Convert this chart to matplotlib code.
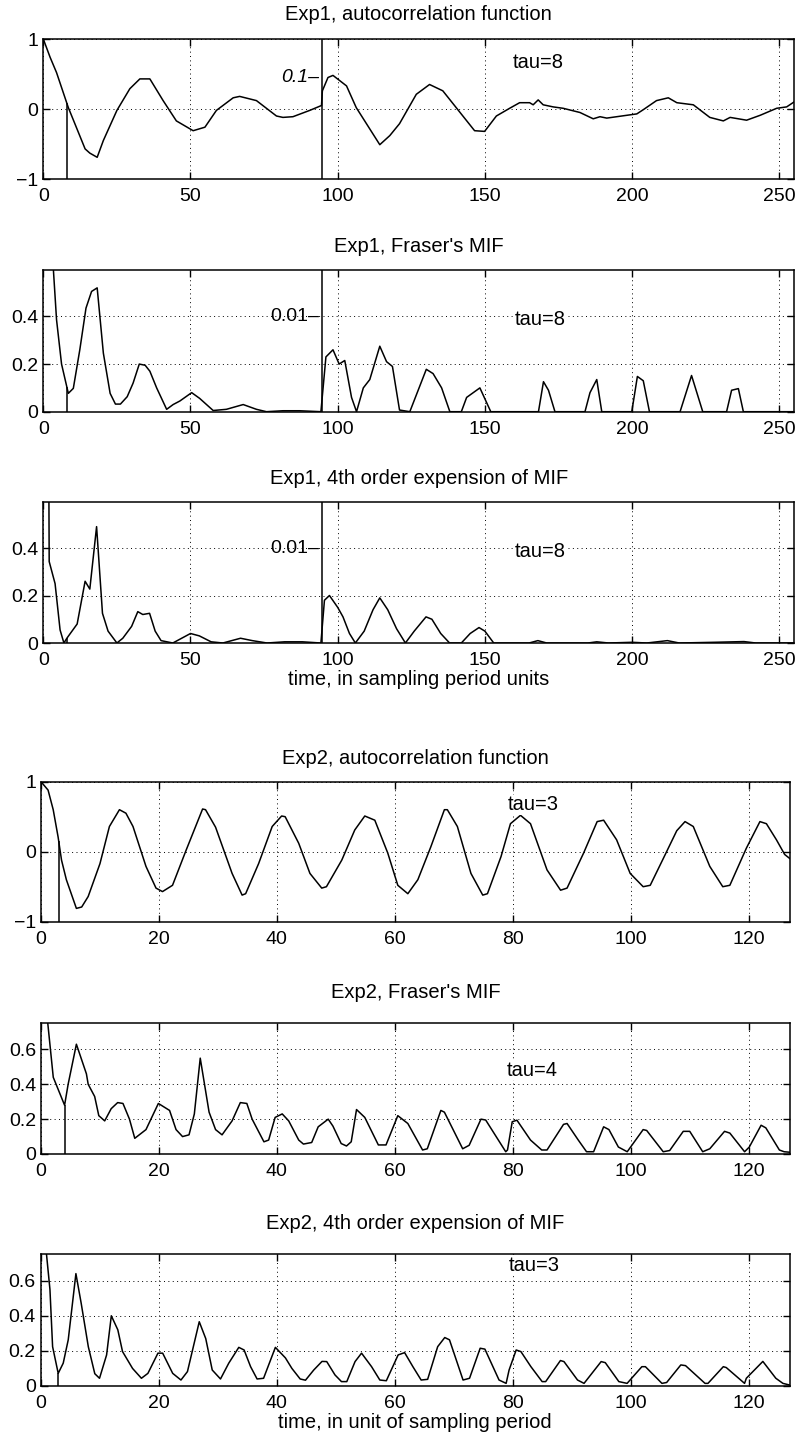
import matplotlib
matplotlib.use("Agg")
import matplotlib.pyplot as plt
import numpy as np

plt.rcParams.update({
    "font.family": ["Liberation Sans", "DejaVu Sans"],
    "font.size": 12,
    "axes.linewidth": 1.1,
    "lines.linewidth": 1.1,
    "xtick.direction": "in",
    "ytick.direction": "in",
    "xtick.top": True,
    "ytick.right": True,
})

# ---------------- data ----------------
# Exp1: lags right of the split line are drawn magnified (label gives the scale)
exp1_split = 94.5
exp1_tau = 8

exp1_acf_x = [0, 2.3, 4.5, 8.5, 14.2, 15.8, 18.3, 20.4, 25, 29.4, 32.8, 36.2, 40.7,
              45.2, 50.9, 54.9, 58.8, 64.5, 66.7, 72.4, 79.2, 81.4, 84.8, 90.5, 94.5,
              94.8, 96.7, 98.4, 103, 106.3, 114.3, 117.7, 121, 126.7, 131.2, 135.7,
              146.5, 149.9, 153.9, 158.4, 161.8, 165.2, 166.4, 168.1, 169.8, 173.2,
              176.6, 182.3, 186.8, 189.1, 191.4, 198.2, 201.6, 203.8, 208.3, 212.3,
              215.2, 220.8, 226.4, 231, 233.3, 238.9, 243.5, 249.1, 252.5, 255]
exp1_acf_y = [1.0, 0.74, 0.52, 0.02, -0.57, -0.63, -0.69, -0.45, -0.02, 0.29, 0.43, 0.43,
              0.12, -0.17, -0.31, -0.26, -0.02, 0.16, 0.18, 0.12, -0.10, -0.12, -0.11,
              -0.02, 0.05,
              0.26, 0.45, 0.48, 0.33, 0.02, -0.51, -0.38, -0.21, 0.21, 0.35, 0.26,
              -0.31, -0.32, -0.10, 0.01, 0.09, 0.09, 0.06, 0.13, 0.06, 0.03,
              0.01, -0.05, -0.14, -0.11, -0.13, -0.09, -0.07, -0.01, 0.12, 0.16,
              0.09, 0.06, -0.12, -0.17, -0.12, -0.16, -0.09, 0.01, 0.03, 0.10]

exp1_mif_x = [0, 3, 4.5, 6.2, 8.5, 10.2, 12.4, 14.5, 16.4, 18.3, 20.4, 22.7, 24.5,
              26.2, 28.5, 30.5, 32.6, 34.6, 36.2, 38.5, 41.9, 44.1, 46.4, 50.4, 53.1,
              57.7, 62.2, 67.9, 72.4, 75.8, 81.4, 87.1, 94.3,
              96, 98.4, 100.5, 102.4, 104.7, 106.4, 108.7, 110.9, 114.3, 116.6, 118.6,
              121, 124.5, 130.1, 132.4, 135.3, 138.1, 142, 143.8, 148.3, 152, 168.2,
              169.9, 171.6, 173.8, 184, 185.7, 188, 189.7, 199.9, 201.8, 203.8, 205.9,
              216.3, 220.2, 224, 232.1, 233.8, 236.1, 237.8, 255]
exp1_mif_y = [2.5, 0.68, 0.386, 0.20, 0.077, 0.098, 0.26, 0.435, 0.505, 0.52, 0.246,
              0.077, 0.032, 0.032, 0.063, 0.12, 0.20, 0.195, 0.17, 0.10, 0.01, 0.03,
              0.045, 0.08, 0.056, 0.005, 0.01, 0.03, 0.01, 0.0, 0.004, 0.004, 0.0,
              0.23, 0.26, 0.20, 0.215, 0.06, 0.0, 0.10, 0.135, 0.275, 0.21, 0.19,
              0.007, 0.0, 0.178, 0.16, 0.10, 0.0, 0.0, 0.06, 0.10, 0.0, 0.0,
              0.126, 0.09, 0.0, 0.0, 0.08, 0.135, 0.0, 0.0, 0.148, 0.13, 0.0,
              0.0, 0.152, 0.0, 0.0, 0.09, 0.097, 0.0, 0.0]

exp1_m4_x = [0, 2, 4, 5.7, 7, 8, 11.5, 14.2, 15.8, 18.1, 20.1, 22, 25, 27, 30, 32.1,
             33.8, 36.1, 38, 40, 44, 47, 50, 53, 57, 61, 64, 67, 71, 76, 82, 88, 94.3,
             95.5, 97.2, 100, 101.8, 104, 106, 109, 112, 114.3, 117, 120, 123, 126,
             130, 132, 135, 138, 142, 145, 148, 150, 153, 165, 168, 171, 185, 188,
             192, 200, 205, 212, 216, 228, 238, 242, 255]
exp1_m4_y = [6.0, 0.343, 0.25, 0.055, 0.0, 0.02, 0.08, 0.26, 0.227, 0.49, 0.125, 0.05,
             0.0, 0.02, 0.07, 0.132, 0.12, 0.125, 0.05, 0.01, 0.0, 0.02, 0.04, 0.03,
             0.005, 0.0, 0.01, 0.02, 0.01, 0.0, 0.005, 0.005, 0.0,
             0.18, 0.2, 0.15, 0.11, 0.04, 0.0, 0.05, 0.14, 0.19, 0.14, 0.06, 0.0, 0.05,
             0.11, 0.1, 0.04, 0.0, 0.0, 0.04, 0.065, 0.05, 0.0, 0.0, 0.01, 0.0, 0.0,
             0.005, 0.0, 0.003, 0.0, 0.01, 0.0, 0.003, 0.006, 0.0, 0.0]

# Exp2
exp2_acf_tau = 3
exp2_mif_tau = 4
exp2_m4_tau = 3

exp2_acf_x = [0, 1.2, 2.07, 2.9, 3.48, 4.3, 6.0, 6.9, 8.0, 10, 11.6, 13.3, 14.4, 15.6,
              17.8, 19.5, 20.6, 22.3, 24.6, 27.4, 27.9, 29.6, 32.4, 34.1, 34.7, 36.9,
              39.2, 40.8, 41.4, 43.7, 45.6, 47.6, 48.4, 51, 53.2, 54.9, 56.6, 58.8,
              60.5, 62.2, 63.9, 66.1, 68.4, 68.9, 70.6, 72.9, 74.9, 75.7, 78, 79.6,
              81.3, 83, 85.8, 88.1, 89.2, 92, 94.3, 95.4, 97.6, 99.9, 102.1, 103.3,
              105.5, 107.8, 109.2, 110.6, 113.4, 115.6, 116.8, 119.6, 121.9, 123,
              124.7, 126.1, 127]
exp2_acf_y = [1, 0.88, 0.6, 0.21, -0.12, -0.40, -0.81, -0.79, -0.64, -0.17, 0.36, 0.60,
              0.55, 0.36, -0.21, -0.52, -0.57, -0.48, 0.02, 0.61, 0.6, 0.35, -0.31,
              -0.62, -0.6, -0.17, 0.36, 0.51, 0.5, 0.12, -0.31, -0.52, -0.5, -0.12,
              0.31, 0.51, 0.45, -0.02, -0.48, -0.6, -0.40, 0.07, 0.6, 0.6, 0.36,
              -0.31, -0.62, -0.6, -0.07, 0.40, 0.52, 0.40, -0.26, -0.55, -0.52, -0.02,
              0.43, 0.45, 0.17, -0.31, -0.50, -0.48, -0.10, 0.30, 0.43, 0.36, -0.21,
              -0.5, -0.48, 0.05, 0.43, 0.40, 0.17, -0.04, -0.10]

exp2_mif_x = [0, 1, 2.08, 4, 4.6, 6.0, 7.7, 8.0, 9.1, 9.8, 10.8, 11.9, 13.0, 13.9, 15,
              15.9, 17.8, 19.9, 21.8, 22.9, 24, 25.1, 26, 27, 28.5, 29.6, 30.7, 32.4,
              33.8, 34.9, 35.8, 37.8, 38.6, 39.7, 40.9, 42, 43.7, 44.5, 45.9, 47, 48.7,
              49.5, 50.9, 51.8, 52.6, 53.5, 54.9, 57.2, 58.5, 60.5, 62.2, 64.7, 65.5,
              67.8, 68.4, 71.5, 72.6, 74.6, 75.4, 78.8, 79.1, 79.9, 80.7, 83, 84.9,
              85.8, 88.6, 89.2, 91.1, 92.5, 93.7, 95.4, 96.3, 97.9, 99.4, 102.1, 102.7,
              105.5, 106.6, 108.9, 110, 112.2, 113.4, 115.9, 116.8, 119.3, 120.1,
              122.1, 122.9, 125.2, 126, 127]
exp2_mif_y = [2.0, 0.8, 0.44, 0.28, 0.40, 0.63, 0.46, 0.40, 0.33, 0.22, 0.19, 0.26,
              0.295, 0.29, 0.20, 0.09, 0.14, 0.29, 0.25, 0.14, 0.10, 0.11, 0.23, 0.55,
              0.24, 0.14, 0.11, 0.19, 0.295, 0.29, 0.20, 0.07, 0.08, 0.21, 0.23, 0.19,
              0.08, 0.057, 0.066, 0.156, 0.20, 0.16, 0.06, 0.046, 0.07, 0.255, 0.21,
              0.052, 0.052, 0.22, 0.175, 0.023, 0.03, 0.25, 0.24, 0.03, 0.05, 0.20,
              0.195, 0.013, 0.023, 0.185, 0.194, 0.08, 0.023, 0.023, 0.17, 0.175, 0.08,
              0.013, 0.013, 0.156, 0.14, 0.04, 0.013, 0.14, 0.135, 0.013, 0.02, 0.13,
              0.13, 0.013, 0.03, 0.13, 0.12, 0.013, 0.04, 0.165, 0.15, 0.023, 0.013,
              0.01]

exp2_m4_x = [0, 0.93, 1.6, 2.05, 3.0, 3.85, 4.7, 6.0, 6.9, 8.1, 9.2, 10.0, 11.2, 12.0,
             13.1, 13.9, 15.6, 17.1, 18.2, 19.9, 20.7, 22.4, 23.8, 24.9, 26.9, 28.0,
             29.1, 30.5, 31.9, 33.6, 34.5, 35.6, 36.7, 37.8, 39.8, 41.5, 42.6, 44.0,
             44.9, 46.3, 47.7, 48.5, 49.9, 51.0, 51.9, 53.3, 54.4, 56.1, 57.5, 58.6,
             60.6, 61.7, 63.1, 64.5, 65.6, 67.3, 68.5, 69.3, 71.6, 72.7, 74.5, 75.3,
             77.7, 78.9, 79.4, 80.6, 81.4, 83.1, 85.0, 85.6, 88.1, 88.7, 91, 92.1,
             95.0, 95.7, 98.0, 99.4, 101.9, 102.5, 105.3, 106.1, 108.5, 109.3, 112.6,
             113.1, 115.7, 116.2, 119.3, 119.6, 122.4, 124.6, 125.8, 127]
exp2_m4_y = [2.0, 0.78, 0.55, 0.224, 0.072, 0.13, 0.263, 0.64, 0.47, 0.224, 0.07,
             0.044, 0.177, 0.40, 0.32, 0.196, 0.1, 0.044, 0.072, 0.187, 0.187, 0.072,
             0.034, 0.082, 0.366, 0.27, 0.091, 0.04, 0.13, 0.22, 0.205, 0.11, 0.04,
             0.044, 0.22, 0.16, 0.10, 0.04, 0.033, 0.091, 0.14, 0.139, 0.063, 0.025,
             0.025, 0.139, 0.187, 0.11, 0.034, 0.03, 0.177, 0.19, 0.11, 0.034, 0.038,
             0.224, 0.276, 0.263, 0.034, 0.044, 0.215, 0.21, 0.034, 0.015, 0.091,
             0.205, 0.196, 0.11, 0.025, 0.025, 0.145, 0.139, 0.034, 0.015, 0.139,
             0.133, 0.025, 0.015, 0.11, 0.11, 0.015, 0.02, 0.12, 0.116, 0.015, 0.015,
             0.11, 0.105, 0.015, 0.044, 0.14, 0.044, 0.015, 0.005]

# ---------------- layout (pixel boxes of each axes) ----------------
W, H = 801, 1441


def box(left, right, top, bottom):
    return [left / W, 1 - bottom / H, (right - left) / W, (bottom - top) / H]


def style(ax, xlim, xticks, ylim, yticks, ylabels, title, title_px=24):
    ax.set_xlim(*xlim)
    ax.set_ylim(*ylim)
    ax.set_xticks(xticks)
    ax.set_yticks(yticks)
    ax.set_yticklabels(ylabels)
    ax.tick_params(length=5, width=1, labelsize=14)
    ax.tick_params(axis="x", pad=6.5)
    ax.tick_params(axis="y", pad=3.5)
    ax.grid(True, color="k", linestyle=(0, (1, 3.5)), linewidth=0.7)
    ax.annotate(title, xy=(0.5, 1), xycoords="axes fraction",
                xytext=(0, title_px * 0.72), textcoords="offset points",
                ha="center", va="center", fontsize=14.5)


def tau_line(ax, x, y, tau, ybottom):
    ax.vlines(tau, ybottom, np.interp(tau, x, y), color="k", lw=1.1)


def tau_text(ax, xpos, ypos, label):
    ax.text(xpos, ypos, label, ha="left", va="center", fontsize=14.5,
            bbox=dict(fc="white", ec="none", pad=0.5))


fig = plt.figure(figsize=(W / 100, H / 100), dpi=100)

x1_ticks = [0, 50, 100, 150, 200, 250]
x2_ticks = [0, 20, 40, 60, 80, 100, 120]

# Exp1 autocorrelation
ax = fig.add_axes(box(43.3, 794, 39, 179))
ax.plot(exp1_acf_x, exp1_acf_y, color="k")
tau_line(ax, exp1_acf_x, exp1_acf_y, exp1_tau, -1)
ax.axvline(exp1_split, color="k", lw=1.1)
ax.text(exp1_split - 0.8, 0.45, "0.1\u2013", ha="right", va="center",
        fontsize=14, style="italic")
tau_text(ax, 159.5, 0.67, "tau=8")
style(ax, (0, 255), x1_ticks, (-1, 1), [-1, 0, 1], ["\u22121", "0", "1"],
      "Exp1, autocorrelation function")

# Exp1 Fraser's MIF
ax = fig.add_axes(box(43.3, 794, 270, 411.7))
ax.plot(exp1_mif_x, exp1_mif_y, color="k")
tau_line(ax, exp1_mif_x, exp1_mif_y, exp1_tau, 0)
ax.axvline(exp1_split, color="k", lw=1.1)
ax.text(exp1_split - 0.8, 0.4, "0.01\u2013", ha="right", va="center", fontsize=14)
tau_text(ax, 160, 0.386, "tau=8")
style(ax, (0, 255), x1_ticks, (0, 0.595), [0, 0.2, 0.4], ["0", "0.2", "0.4"],
      "Exp1, Fraser's MIF", title_px=23)

# Exp1 4th order expansion
ax = fig.add_axes(box(43.3, 794, 501.7, 643))
ax.plot(exp1_m4_x, exp1_m4_y, color="k")
tau_line(ax, exp1_m4_x, exp1_m4_y, exp1_tau, 0)
ax.axvline(exp1_split, color="k", lw=1.1)
ax.text(exp1_split - 0.8, 0.4, "0.01\u2013", ha="right", va="center", fontsize=14)
tau_text(ax, 160, 0.385, "tau=8")
style(ax, (0, 255), x1_ticks, (0, 0.595), [0, 0.2, 0.4], ["0", "0.2", "0.4"],
      "Exp1, 4th order expension of MIF", title_px=23)
ax.set_xlabel("time, in sampling period units", fontsize=14.5, labelpad=1)

# Exp2 autocorrelation
ax = fig.add_axes(box(41, 790, 781.7, 921.7))
ax.plot(exp2_acf_x, exp2_acf_y, color="k")
tau_line(ax, exp2_acf_x, exp2_acf_y, exp2_acf_tau, -1)
tau_text(ax, 79.2, 0.67, "tau=3")
style(ax, (0, 127), x2_ticks, (-1, 1), [-1, 0, 1], ["\u22121", "0", "1"],
      "Exp2, autocorrelation function", title_px=23)

# Exp2 Fraser's MIF
ax = fig.add_axes(box(41, 790, 1023.3, 1154))
ax.plot(exp2_mif_x, exp2_mif_y, color="k")
tau_line(ax, exp2_mif_x, exp2_mif_y, exp2_mif_tau, 0)
tau_text(ax, 79, 0.48, "tau=4")
style(ax, (0, 127), x2_ticks, (0, 0.75), [0, 0.2, 0.4, 0.6],
      ["0", "0.2", "0.4", "0.6"], "Exp2, Fraser's MIF", title_px=31)

# Exp2 4th order expansion
ax = fig.add_axes(box(40.5, 790, 1254.3, 1386))
ax.plot(exp2_m4_x, exp2_m4_y, color="k")
tau_line(ax, exp2_m4_x, exp2_m4_y, exp2_m4_tau, 0)
tau_text(ax, 79.3, 0.686, "tau=3")
style(ax, (0, 127), x2_ticks, (0, 0.75), [0, 0.2, 0.4, 0.6],
      ["0", "0.2", "0.4", "0.6"], "Exp2, 4th order expension of MIF", title_px=31)
ax.set_xlabel("time, in unit of sampling period", fontsize=14.5, labelpad=1)

fig.savefig("out.png", dpi=100)
